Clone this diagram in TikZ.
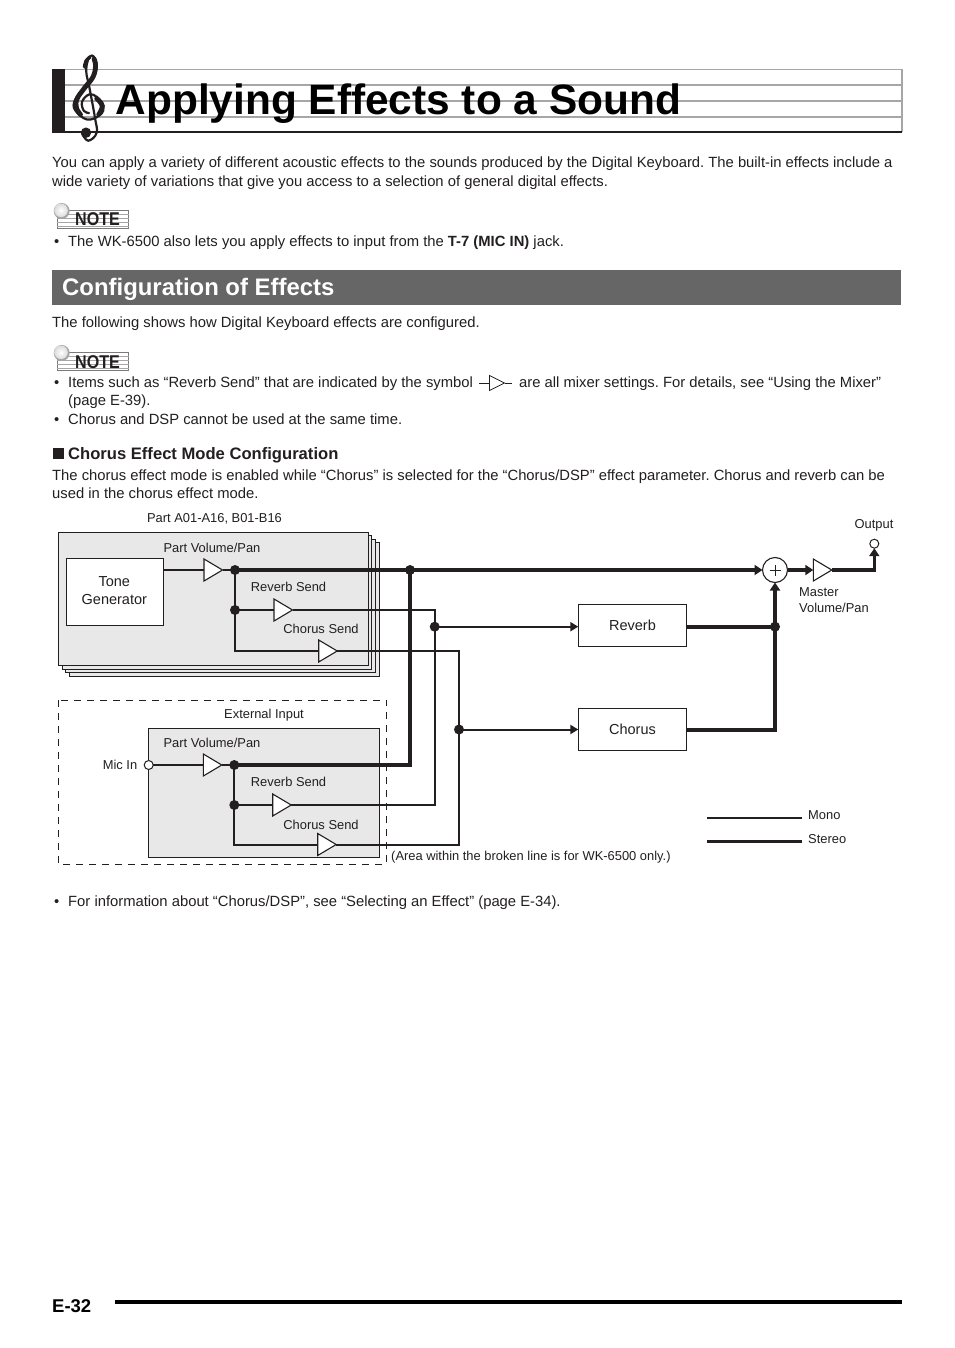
\documentclass[tikz,border=0pt]{standalone}
\usepackage{fontspec}
\setmainfont{Liberation Sans}
\usetikzlibrary{shapes.geometric,arrows.meta}
\definecolor{ink}{HTML}{231F20}
\definecolor{staffgray}{HTML}{A6A6A6}
\definecolor{bannergray}{HTML}{666666}
\definecolor{panelgray}{HTML}{E8E8E8}
\frenchspacing
\tikzstyle{bodytext} = [inner sep=0pt, anchor=base west, text=ink, font=\fontsize{14.8}{17}\selectfont]
\tikzstyle{label} = [inner sep=0pt, anchor=base, text=ink, font=\fontsize{12.9}{15}\selectfont]
\tikzstyle{labelleft} = [label, anchor=base west]
\tikzstyle{panel} = [draw=ink, fill=panelgray, line width=1pt]
\tikzstyle{unit} = [draw=ink, fill=white, line width=1.2pt, inner sep=0pt, outer sep=0pt, text=ink, font=\fontsize{14.5}{17}\selectfont]
\tikzstyle{amp} = [isosceles triangle, isosceles triangle stretches, draw=ink, fill=white, line width=1.1pt, inner sep=0pt, outer sep=0pt, minimum width=22pt, minimum height=18.5pt, anchor=west]
\tikzstyle{dot} = [circle, fill=ink, inner sep=0pt, minimum size=10pt]
\tikzstyle{jack} = [circle, draw=ink, fill=white, line width=1pt, inner sep=0pt, outer sep=0pt, minimum size=9pt]
\tikzstyle{mono} = [draw=ink, line width=2pt]
\tikzstyle{stereo} = [draw=ink, line width=3.6pt]
\tikzstyle{monoarrow} = [mono, -{Triangle[length=8pt,width=9pt]}]
\tikzstyle{stereoarrow} = [stereo, -{Triangle[length=8pt,width=10pt]}]
\begin{document}
\begin{tikzpicture}[x=1pt,y=-1pt]
	\useasboundingbox[fill=white] (0,0) rectangle (954,1348);
	% page heading
	\foreach \y/\w in {69.5/1.2,85/2,101/2,117/2}
		\draw[staffgray,line width=\w pt] (65,\y) -- (902,\y);
	\draw[staffgray,line width=1.2pt] (902,69) -- (902,132);
	\fill[ink] (52,69.3) rectangle (65,132.5);
	\draw[ink,line width=2pt] (52,132) -- (902,132);
	% treble clef, no font here has it
	\draw[ink,line width=2.2pt,line cap=round] plot[smooth,tension=0.65] coordinates {(82.3,134) (88.3,140.7) (96.6,133) (95,118) (89.5,88) (86.3,72) (88,60) (92,55.5) (96.3,62) (95,74) (84,88) (75,100) (75,110) (87,119.5) (100,115) (103.7,106) (97,97) (89,94.5) (82,102) (84,111) (89,113)};
	\draw[ink,line width=4.8pt,line cap=round] plot[smooth,tension=0.65] coordinates {(94,59) (95.5,66) (93,77) (84.5,88) (77,99) (76.5,108) (80.5,114.5)};
	\draw[ink,line width=4.4pt,line cap=round] plot[smooth,tension=0.65] coordinates {(98.5,114.5) (102,106) (96.5,98.5)};
	\draw[ink,line width=3.4pt,line cap=round] plot[smooth,tension=0.65] coordinates {(84.5,67) (86,61) (90,57)};
	\fill[ink] (86,132.7) circle (5.2);
	\node[bodytext,font=\bfseries\fontsize{42.4}{48}\selectfont,text=black] (title) at (115.5,114.5) {Applying Effects to a Sound};
	\node[bodytext] (intro1) at (52,167.3) {You can apply a variety of different acoustic effects to the sounds produced by the Digital Keyboard. The built-in effects include a};
	\node[bodytext] (intro2) at (52,186.3) {wide variety of variations that give you access to a selection of general digital effects.};
	% note badges
	\foreach \y/\n in {0/a,142/b} {
		\draw[ink!60,line width=0.7pt] (57,210+\y) rectangle (128.7,228.5+\y);
		\foreach \z in {214,218,222,226}
			\draw[staffgray,line width=0.7pt] (57,\z+\y) -- (128.7,\z+\y);
		\fill[staffgray] (61.7,211+\y) circle (8);
		\shade[inner color=white,outer color=staffgray!40] (61,210.3+\y) circle (6.8);
		\node[inner sep=0pt,anchor=base west,text=ink,xscale=0.87,transform shape,font=\bfseries\fontsize{18.5}{20}\selectfont] (note\n) at (75,226+\y) {NOTE};
	}
	\node[bodytext] (bulleta) at (54,246.3) {•};
	\node[bodytext] (mictext) at (68,246.3) {The WK-6500 also lets you apply effects to input from the \textbf{T-7 (MIC IN)} jack.};
	\fill[bannergray] (52,270) rectangle (901,305);
	\node[bodytext,font=\bfseries\fontsize{23.9}{26}\selectfont,text=white] (section) at (62,295) {Configuration of Effects};
	\node[bodytext] (following) at (52,327) {The following shows how Digital Keyboard effects are configured.};
	\node[bodytext] (bulletb) at (54,387) {•};
	\node[bodytext] (items1) at (68,387) {Items such as “Reverb Send” that are indicated by the symbol};
	\coordinate (symin) at (479,383);
	\coordinate (symout) at (511.5,383);
	\node[amp,minimum width=15pt,minimum height=15pt,line width=0.8pt] (symamp) at (489.5,383) {};
	\draw[ink,line width=0.9pt] (symin) -- (symamp.west);
	\draw[ink,line width=0.9pt] (symamp.apex) -- (symout);
	\node[bodytext] (items2) at (519,387) {are all mixer settings. For details, see “Using the Mixer”};
	\node[bodytext] (items3) at (68,405) {(page E-39).};
	\node[bodytext] (bulletc) at (54,424) {•};
	\node[bodytext] (items4) at (68,424) {Chorus and DSP cannot be used at the same time.};
	\fill[ink] (53,448) rectangle (64,459);
	\node[bodytext,font=\bfseries\fontsize{16.6}{18}\selectfont] (modehead) at (68,459) {Chorus Effect Mode Configuration};
	\node[bodytext] (mode1) at (52,480) {The chorus effect mode is enabled while “Chorus” is selected for the “Chorus/DSP” effect parameter. Chorus and reverb can be};
	\node[bodytext] (mode2) at (52,498) {used in the chorus effect mode.};
	% part panels
	\foreach \i in {3,2,1,0}
		\draw[panel] (58.3+3.7*\i,532+3.6*\i) rectangle (368+3.7*\i,665.7+3.6*\i);
	\node[label] (parts) at (214.5,522) {Part A01-A16, B01-B16};
	\node[unit,minimum width=97pt,minimum height=67pt] (tone) at (114.8,591.8) {};
	\node[label,anchor=center,align=center,font=\fontsize{14.5}{18}\selectfont] (tonetxt) at (114.3,590.5) {Tone\\Generator};
	\node[amp] (partvol) at (204,570) {};
	\node[amp] (revsend) at (274,610) {};
	\node[amp] (chosend) at (318.7,651) {};
	\node[label] (partvoltxt) at (212,552) {Part Volume/Pan};
	\node[label] (revsendtxt) at (288.5,591.5) {Reverb Send};
	\node[label] (chosendtxt) at (321,633) {Chorus Send};
	% external input
	\draw[ink,line width=1pt,dash pattern=on 7pt off 6pt] (58.3,700) rectangle (386.7,864);
	\draw[panel] (148.3,728.3) rectangle (379.3,857.3);
	\node[label] (exttxt) at (264,718) {External Input};
	\node[amp] (extvol) at (203.3,765) {};
	\node[amp] (extrev) at (272.7,805) {};
	\node[amp] (extcho) at (317.7,844.5) {};
	\node[jack] (micin) at (148.7,765) {};
	\node[label] (mictxt) at (120,769.5) {Mic In};
	\node[label] (extvoltxt) at (212,747) {Part Volume/Pan};
	\node[label] (extrevtxt) at (288.5,786) {Reverb Send};
	\node[label] (extchotxt) at (321,829) {Chorus Send};
	\node[labelleft] (areatxt) at (391,860) {(Area within the broken line is for WK-6500 only.)};
	% effects and output
	\node[unit,minimum width=108.4pt,minimum height=42pt] (reverb) at (632.5,625.3) {Reverb};
	\node[unit,minimum width=108.4pt,minimum height=42pt] (chorus) at (632.5,729.3) {Chorus};
	\node[circle,draw=ink,fill=white,line width=1.1pt,inner sep=0pt,outer sep=0pt,minimum size=25pt] (sum) at (775,570) {};
	\draw[ink,line width=0.8pt] ([xshift=-5.5pt]sum.center) -- ([xshift=5.5pt]sum.center);
	\draw[ink,line width=0.8pt] ([yshift=-5.5pt]sum.center) -- ([yshift=5.5pt]sum.center);
	\node[amp] (master) at (813.3,570) {};
	\node[jack] (output) at (874.3,543.7) {};
	\node[label] (outputtxt) at (874,528.5) {Output};
	\node[labelleft] (mastertxt1) at (799,596) {Master};
	\node[labelleft] (mastertxt2) at (799,612) {Volume/Pan};
	% junctions
	\coordinate (j1) at (235,570);
	\coordinate (j2) at (235,610);
	\coordinate (j3) at (235,651);
	\coordinate (j4) at (410,570);
	\coordinate (j5) at (434.7,610);
	\coordinate (j6) at (434.7,626.7);
	\coordinate (j7) at (434.7,805);
	\coordinate (j8) at (459,651);
	\coordinate (j9) at (459,729.5);
	\coordinate (j10) at (459,844.5);
	\coordinate (k1) at (234.3,765);
	\coordinate (k2) at (234.3,805);
	\coordinate (k3) at (234.3,844.5);
	\coordinate (k4) at (410,765);
	\coordinate (m1) at (775,626.7);
	\coordinate (m2) at (775,730);
	\coordinate (o1) at (874.3,570);
	% signal lines
	\draw[mono] (tone.east |- partvol.west) -- (partvol.west);
	\draw[mono] (partvol.apex) -- (j1);
	\draw[mono] (j1) -- (j2) -- (j3) -- (chosend.west);
	\draw[mono] (j2) -- (revsend.west);
	\draw[mono,line join=miter] (revsend.apex) -- (j5) -- (j7) -- (extrev.apex);
	\draw[mono,line join=miter] (chosend.apex) -- (j8) -- (j10) -- (extcho.apex);
	\draw[monoarrow] (j6) -- (reverb.west |- j6);
	\draw[monoarrow] (j9) -- (chorus.west |- j9);
	\draw[mono] (micin) -- (extvol.west);
	\draw[mono] (extvol.apex) -- (k1);
	\draw[mono] (k1) -- (k2) -- (k3) -- (extcho.west);
	\draw[mono] (k2) -- (extrev.west);
	\draw[stereo] (k1) -- (k4) -- (j4);
	\draw[stereoarrow] (j1) -- (sum.west);
	\draw[stereo] (reverb.east |- m1) -- (m1);
	\draw[stereoarrow] (chorus.east |- m2) -- (m2) -- (sum.south);
	\draw[stereoarrow] (sum.east) -- (master.west);
	\draw[stereoarrow] (master.apex) -- (o1) -- (output.south);
	\foreach \j in {j1,j2,j4,j6,j9,k1,k2,m1}
		\node[dot] (dot\j) at (\j) {};
	% legend
	\coordinate (monoa) at (707,817.5);
	\coordinate (monob) at (802,817.5);
	\coordinate (sterea) at (707,841.5);
	\coordinate (stereb) at (802,841.5);
	\draw[mono] (monoa) -- (monob);
	\draw[stereo] (sterea) -- (stereb);
	\node[labelleft] (monotxt) at (808,819) {Mono};
	\node[labelleft] (stereotxt) at (808,843) {Stereo};
	% foot of page
	\node[bodytext] (bulletd) at (54,906) {•};
	\node[bodytext] (infotxt) at (68,906) {For information about “Chorus/DSP”, see “Selecting an Effect” (page E-34).};
	\node[bodytext,font=\bfseries\fontsize{18.5}{20}\selectfont,text=black] (pageno) at (52,1312) {E-32};
	\fill[black] (115,1300) rectangle (902,1304);
\end{tikzpicture}
\end{document}
